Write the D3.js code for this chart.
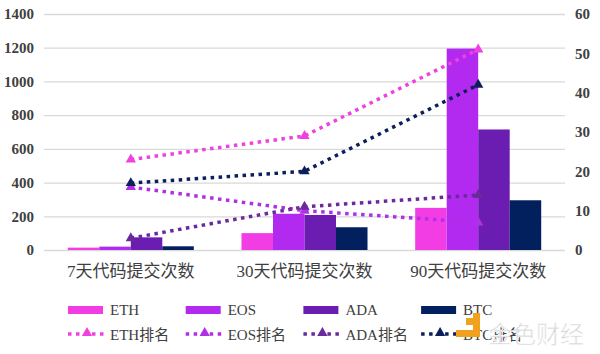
<!DOCTYPE html>
<html>
<head>
<meta charset="utf-8">
<script src="https://cdn.jsdelivr.net/npm/d3@7"></script>
<style>
  body { margin: 0; background: #fff; }
  svg { display: block; }
  svg text { font-family: "Liberation Serif", "Times New Roman", "DejaVu Serif", "Noto Sans CJK SC", serif; }
  .laxis text, .raxis text { font-weight: bold; font-size: 15px; fill: #404040; }
  .xaxis text { font-size: 17px; fill: #404040; }
  .legend text { font-size: 15px; fill: #404040; }
</style>
</head>
<body>
<div id="chart"></div>
<script>
// categories and series
const categories = ["7天代码提交次数", "30天代码提交次数", "90天代码提交次数"];
const coins = ["ETH", "EOS", "ADA", "BTC"];
const barColors = ["#f23ce4", "#b22af0", "#6a1db0", "#03205e"];
const lineColors = ["#f040e0", "#b030e6", "#6a2a9e", "#0c1f5a"];

// commits (left axis)
const ethCommits = [14, 100, 250];
const eosCommits = [20, 215, 1195];
const adaCommits = [75, 208, 715];
const btcCommits = [22, 135, 295];

// rankings (right axis)
const ethRank = [23, 29, 51];
const eosRank = [16, 10, 7];
const adaRank = [3, 11, 14];
const btcRank = [17, 20, 42];

const leftTicks = [0, 200, 400, 600, 800, 1000, 1200, 1400];
const rightTicks = [0, 10, 20, 30, 40, 50, 60];

const commits = [ethCommits, eosCommits, adaCommits, btcCommits];
const ranks = [ethRank, eosRank, adaRank, btcRank];

const width = 600, height = 354;
const margin = {top: 14, right: 35, bottom: 104, left: 44};

const svg = d3.select("#chart").append("svg")
  .attr("width", width).attr("height", height);

let x0 = d3.scaleBand()
  .domain(categories)
  .range([margin.left, width - margin.right])
  .paddingInner(0.2745)
  .paddingOuter(0.137);

let x1 = d3.scaleBand()
  .domain(coins)
  .range([0, x0.bandwidth()]);

let y = d3.scaleLinear().domain([0, 1400]).range([height - margin.bottom, margin.top]);
let y2 = d3.scaleLinear().domain([0, 60]).range([height - margin.bottom, margin.top]);

// gridlines
svg.append("g")
  .attr("transform", `translate(${margin.left},0)`)
  .call(d3.axisLeft(y).tickValues(leftTicks).tickSize(-(width - margin.left - margin.right)).tickFormat(""))
  .call(g => g.select(".domain").remove())
  .call(g => g.selectAll("line").attr("stroke", "#d9d9d9").attr("stroke-width", 1.3));

// left axis
svg.append("g").attr("class", "laxis")
  .attr("transform", `translate(${margin.left},0)`)
  .call(d3.axisLeft(y).tickValues(leftTicks).tickFormat(d3.format("d")).tickSize(0).tickPadding(10))
  .call(g => g.select(".domain").remove());

// right axis
svg.append("g").attr("class", "raxis")
  .attr("transform", `translate(${width - margin.right},0)`)
  .call(d3.axisRight(y2).tickValues(rightTicks).tickFormat(d3.format("d")).tickSize(0).tickPadding(10))
  .call(g => g.select(".domain").remove());

// x axis labels
svg.append("g").attr("class", "xaxis")
  .attr("transform", `translate(0,${height - margin.bottom})`)
  .call(d3.axisBottom(x0).tickSize(0))
  .call(g => g.select(".domain").remove())
  .call(g => g.selectAll("text").attr("y", 27).attr("dy", null));

// bars
coins.forEach((c, i) => {
  svg.append("g").selectAll("rect")
    .data(commits[i])
    .enter().append("rect")
    .attr("x", (d, j) => x0(categories[j]) + x1(c))
    .attr("width", x1.bandwidth())
    .attr("y", d => y(d))
    .attr("height", d => y(0) - y(d))
    .attr("fill", barColors[i]);
});

// ranking lines
let rankLine = d3.line()
  .x((d, j) => x0(categories[j]) + x0.bandwidth() / 2)
  .y(d => y2(d));

const tri = d3.symbol().type(d3.symbolTriangle).size(46);

coins.forEach((c, i) => {
  svg.append("path")
    .datum(ranks[i])
    .attr("d", rankLine)
    .attr("fill", "none")
    .attr("stroke", lineColors[i])
    .attr("stroke-width", 3.5)
    .attr("stroke-dasharray", "3.5,4.5");
  svg.append("g").selectAll("path")
    .data(ranks[i])
    .enter().append("path")
    .attr("d", tri)
    .attr("fill", lineColors[i])
    .attr("transform", (d, j) => `translate(${x0(categories[j]) + x0.bandwidth() / 2},${y2(d)})`);
});

// legend
let legend = svg.append("g").attr("class", "legend");
coins.forEach((c, i) => {
  let lx = 68 + i * 117.7;
  legend.append("rect")
    .attr("x", lx).attr("y", 306).attr("width", 35).attr("height", 8)
    .attr("fill", barColors[i]);
  legend.append("text").attr("x", lx + 42).attr("y", 315).text(c);

  legend.append("line")
    .attr("x1", lx).attr("x2", lx + 38).attr("y1", 334).attr("y2", 334)
    .attr("stroke", lineColors[i]).attr("stroke-width", 3.5)
    .attr("stroke-dasharray", "3.5,4.5");
  legend.append("path")
    .attr("d", tri)
    .attr("fill", lineColors[i])
    .attr("transform", `translate(${lx + 19},333)`);
  legend.append("text").attr("x", lx + 42).attr("y", 340).text(c + "排名");
});

// watermark
let wm = svg.append("g").attr("class", "watermark");
wm.append("path")
  .attr("d", "M466,318 h7 v7 h-7 z M473,313 h7 v24 h-24 v-7 h17 z")
  .attr("fill", "#f0a21e");
wm.append("text")
  .attr("x", 488).attr("y", 343)
  .style("font-family", "'Noto Sans CJK SC', sans-serif")
  .attr("font-size", 24)
  .attr("fill", "#d6d6d6")
  .attr("stroke", "#fff").attr("stroke-width", 0.6)
  .text("金色财经");
</script>
</body>
</html>
